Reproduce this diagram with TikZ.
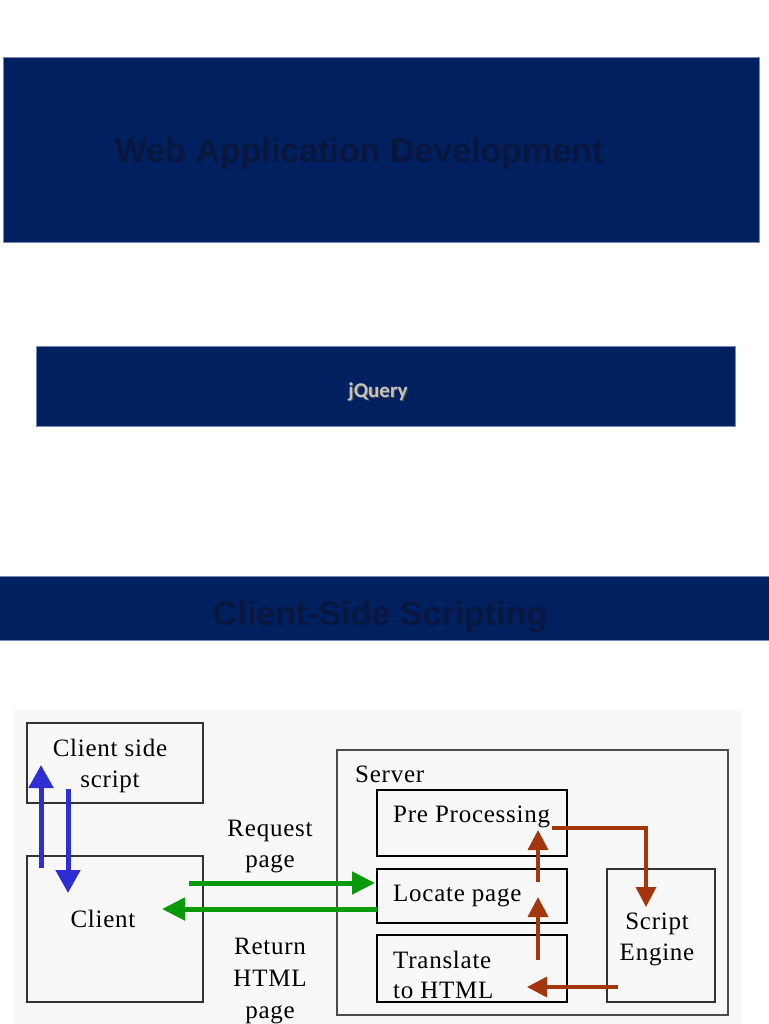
\documentclass[tikz,border=0pt]{standalone}
\usepackage{fontspec}
\setmainfont{Liberation Serif}[LetterSpace=3]
\newfontfamily\arialf{Liberation Sans}
\newfontfamily\calf{Carlito}
\usetikzlibrary{arrows.meta}
\definecolor{navy}{HTML}{002060}
\definecolor{navytext}{HTML}{09173F}
\definecolor{bandedge}{HTML}{7A8AB8}
\definecolor{bluearr}{HTML}{2E2ED2}
\definecolor{greenarr}{HTML}{089A08}
\definecolor{brownarr}{HTML}{A3360C}
\definecolor{diagbg}{HTML}{F8F8F8}
\definecolor{jqtext}{HTML}{C4C4C4}
\tikzset{
  band/.style={fill=navy, draw=bandedge, line width=1pt, inner sep=0pt, outer sep=0pt},
  bandtext/.style={font=\arialf\bfseries\fontsize{34}{40}\selectfont, text=navytext, anchor=base, inner sep=0pt},
  thinbox/.style={draw=black!80, line width=1.4pt, inner sep=0pt, outer sep=0pt},
  thickbox/.style={draw=black, line width=2pt, inner sep=0pt, outer sep=0pt},
  lbl/.style={font=\fontsize{25}{32}\selectfont, inner sep=0pt, anchor=base},
  lblw/.style={font=\fontsize{25}{32}\selectfont, inner sep=0pt, anchor=base west},
  bluearrow/.style={draw=bluearr, line width=5pt, -{Triangle[width=24pt,length=23pt]}},
  greenarrow/.style={draw=greenarr, line width=5pt, -{Triangle[width=22pt,length=23pt]}},
  brownarrow/.style={draw=brownarr, line width=3.5pt, -{Triangle[width=20pt,length=20pt]}},
}
\begin{document}
\begin{tikzpicture}[x=1pt,y=-1pt]
\useasboundingbox (0,0) rectangle (768,1024);
\fill[white] (0,0) rectangle (768,1024);

% banners
\node[band, minimum width=756pt, minimum height=184pt] (band1) at (381,150) {};
\node[bandtext] (title1) at (359,163) {Web Application Development};

\node[band, minimum width=699pt, minimum height=80pt] (band2) at (385.5,386) {};
\node[font=\calf\bfseries\fontsize{21}{25}\selectfont, text=black!70, anchor=base, inner sep=0pt] (jqshadow) at (379.2,398.2) {jQuery};
\node[font=\calf\bfseries\fontsize{21}{25}\selectfont, text=jqtext, anchor=base, inner sep=0pt] (jq) at (378,397) {jQuery};

\node[band, minimum width=770pt, minimum height=64pt] (band3) at (384,608) {};
\node[bandtext] (title3) at (380,625) {Client-Side Scripting};

% diagram background
\fill[diagbg] (14,710) rectangle (742,1024);

% boxes
\node[thinbox, minimum width=176pt, minimum height=80pt] (cscript) at (115,763) {};
\node[thinbox, minimum width=176pt, minimum height=146pt] (client) at (115,929) {};
\node[thinbox, draw=black!70, minimum width=391pt, minimum height=265pt] (server) at (532.5,882.5) {};
\node[thickbox, minimum width=190pt, minimum height=66pt] (pre) at (472,823) {};
\node[thickbox, minimum width=190pt, minimum height=54pt] (locate) at (472,896) {};
\node[thickbox, minimum width=190pt, minimum height=67pt] (trans) at (472,968.5) {};
\node[thinbox, minimum width=108pt, minimum height=133pt] (engine) at (661,935.5) {};

% labels
\node[lbl] (cscriptA) at (110,756) {Client side};
\node[lbl] (cscriptB) at (110,787) {script};
\node[lbl] (clientL) at (103,927) {Client};
\node[lblw] (serverL) at (355,782) {Server};
\node[lblw] (preL) at (393,822) {Pre Processing};
\node[lblw] (locateL) at (393,901) {Locate page};
\node[lblw] (transA) at (393,968) {Translate};
\node[lblw] (transB) at (393,998) {to HTML};
\node[lbl] (engineA) at (657,929) {Script};
\node[lbl] (engineB) at (657,960) {Engine};
\node[lbl] (reqA) at (270,836) {Request};
\node[lbl] (reqB) at (270,867) {page};
\node[lbl] (retA) at (270,954) {Return};
\node[lbl] (retB) at (270,986) {HTML};
\node[lbl] (retC) at (270,1018) {page};

% connectors
\coordinate (bu0) at (41,868);
\coordinate (bu1) at (41,765);
\coordinate (bd0) at (68,789);
\coordinate (bd1) at (68,893);
\draw[bluearrow] (bu0) -- (bu1);
\draw[bluearrow] (bd0) -- (bd1);

\coordinate (req0) at (189,883);
\coordinate (ret1) at (162,909);
\draw[greenarrow] (req0) -- ([xshift=-2pt]locate.west |- req0);
\draw[greenarrow] (locate.west |- ret1) -- (ret1);

\coordinate (lp0) at (538,882);
\coordinate (lp1) at (538,830);
\coordinate (tl0) at (538,960);
\coordinate (tl1) at (538,897);
\coordinate (pe0) at (552,828);
\coordinate (pe1) at (646,907);
\coordinate (et0) at (618,987);
\coordinate (et1) at (527,987);
\draw[brownarrow] (lp0) -- (lp1);
\draw[brownarrow] (tl0) -- (tl1);
\draw[brownarrow] (pe0) -| (pe1);
\draw[brownarrow] (et0) -- (et1);
\end{tikzpicture}
\end{document}
